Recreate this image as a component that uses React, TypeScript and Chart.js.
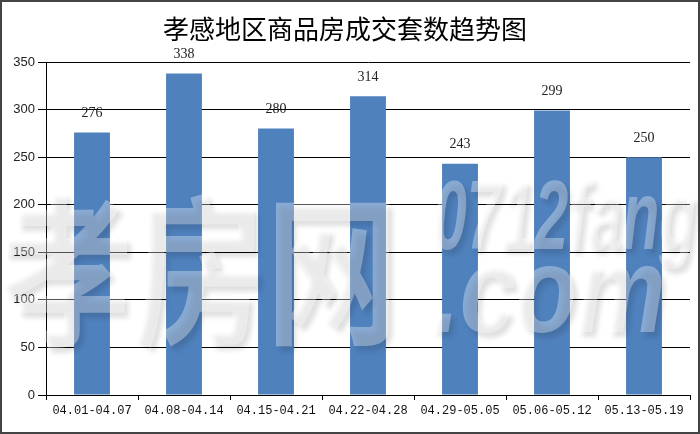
import React, { useEffect, useRef } from "react";
import { Chart, registerables } from "chart.js";

Chart.register(...registerables);

const TITLE = "孝感地区商品房成交套数趋势图";
const categories = [
  "04.01-04.07",
  "04.08-04.14",
  "04.15-04.21",
  "04.22-04.28",
  "04.29-05.05",
  "05.06-05.12",
  "05.13-05.19",
];
const deals = [276, 338, 280, 314, 243, 299, 250];
const yMin = 0;
const yMax = 350;
const yStep = 50;

const decorPlugin = {
  id: "decor",
  afterDatasetsDraw(chart: any) {
    const ctx = chart.ctx as CanvasRenderingContext2D;
    const meta = chart.getDatasetMeta(0);
    // value labels
    ctx.save();
    ctx.font = "14px 'Liberation Serif', serif";
    ctx.fillStyle = "#222";
    ctx.textAlign = "center";
    ctx.textBaseline = "middle";
    meta.data.forEach((bar: any, i: number) => {
      ctx.fillText(String(deals[i]), bar.x, bar.y - 19);
    });
    ctx.restore();

    // watermark
    ctx.save();
    ctx.fillStyle = "rgba(255,255,255,0.33)";
    ctx.shadowColor = "rgba(0,0,0,0.38)";
    ctx.shadowBlur = 5;
    ctx.shadowOffsetX = 4;
    ctx.shadowOffsetY = 5;
    ctx.textBaseline = "alphabetic";
    ctx.textAlign = "left";
    ctx.save();
    ctx.translate(0, 332);
    ctx.scale(0.82, 1);
    ctx.font = "bold 162px 'Noto Sans CJK SC', sans-serif";
    ctx.fillText("孝房网", 0, 0);
    ctx.restore();
    ctx.save();
    ctx.translate(433, 249);
    ctx.scale(0.62, 1);
    ctx.font = "italic bold 98px 'Liberation Sans', sans-serif";
    ctx.fillText("0712fang", 0, 0);
    ctx.restore();
    ctx.save();
    ctx.translate(432, 332);
    ctx.scale(0.82, 1);
    ctx.font = "italic bold 122px 'Liberation Sans', sans-serif";
    ctx.fillText(".com", 0, 0);
    ctx.restore();
    ctx.restore();
  },
  afterDraw(chart: any) {
    const ctx = chart.ctx as CanvasRenderingContext2D;
    ctx.save();
    ctx.font = "26px 'Noto Sans CJK SC', sans-serif";
    ctx.fillStyle = "#000";
    ctx.textAlign = "center";
    ctx.textBaseline = "middle";
    ctx.fillText(TITLE, 345, 29);
    ctx.strokeStyle = "#444";
    ctx.lineWidth = 2;
    ctx.strokeRect(1, 1, chart.width - 2, chart.height - 2);
    ctx.restore();
  },
};

export default function App() {
  const ref = useRef<HTMLCanvasElement>(null);
  useEffect(() => {
    document.body.style.margin = "0";
    const chart = new Chart(ref.current!, {
      type: "bar",
      data: {
        labels: categories,
        datasets: [
          {
            data: deals,
            backgroundColor: "#4F81BD",
            borderWidth: 0,
            barPercentage: 0.39,
            categoryPercentage: 1,
          },
        ],
      },
      options: {
        responsive: false,
        animation: false,
        layout: { padding: { top: 62, right: 10, left: 0, bottom: 0 } },
        plugins: {
          legend: { display: false },
          title: { display: false },
          tooltip: { enabled: false },
        },
        scales: {
          x: {
            offset: true,
            afterFit: (s: any) => {
              s.height = 39;
            },
            grid: {
              offset: true,
              drawOnChartArea: false,
              tickLength: 5,
              color: "#000",
              tickColor: "#000",
            },
            border: { color: "#000", width: 1 },
            ticks: {
              color: "#111",
              padding: 4,
              maxRotation: 0,
              autoSkip: false,
              font: { family: "'Liberation Mono', monospace", size: 12 },
            },
          },
          y: {
            min: yMin,
            max: yMax,
            afterFit: (s: any) => {
              s.width = 46;
            },
            grid: {
              color: "#000",
              tickColor: "#000",
              tickLength: 8,
              lineWidth: 1,
            },
            border: { color: "#000", width: 1 },
            ticks: {
              stepSize: yStep,
              color: "#222",
              padding: 3,
              font: { family: "'Liberation Sans', sans-serif", size: 13 },
            },
          },
        },
      },
      plugins: [decorPlugin],
    });
    return () => chart.destroy();
  }, []);
  return <canvas ref={ref} width={700} height={434} style={{ display: "block" }} />;
}
